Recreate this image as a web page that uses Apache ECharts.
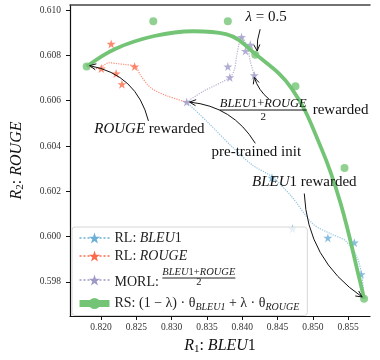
<!DOCTYPE html>
<html lang="en">
<head>
<meta charset="UTF-8">
<title>Rewarded soups front</title>
<script src="https://cdn.jsdelivr.net/npm/echarts@6/dist/echarts.min.js"></script>
<style>html,body{margin:0;padding:0;background:#fff;}</style>
</head>
<body>
<div id="main" style="width:380px;height:360px;"></div>
<script>
// tick values
var xTicks = [0.820, 0.825, 0.830, 0.835, 0.840, 0.845, 0.850, 0.855];
var yTicks = [0.598, 0.600, 0.602, 0.604, 0.606, 0.608, 0.610];

// pre-trained init
var initPoint = [0.83213, 0.60594];

// RL: BLEU1
var bleuStars = [[0.84421, 0.60260], [0.84713, 0.60034], [0.85213, 0.59994], [0.85588, 0.59973], [0.85685, 0.59833]];
var bleuPath = [[0.83213, 0.60594], [0.83518, 0.60503], [0.83865, 0.60394], [0.84143, 0.60316], [0.84421, 0.60264],
                [0.84699, 0.60177], [0.85004, 0.60055], [0.85254, 0.60012], [0.85463, 0.59981], [0.85629, 0.59907],
                [0.85699, 0.59816], [0.85726, 0.59725]];

// RL: ROUGE
var rougeStars = [[0.82143, 0.60851], [0.82004, 0.60742], [0.82213, 0.60720], [0.82476, 0.60751], [0.82296, 0.60673]];
var rougePath = [[0.83213, 0.60594], [0.82949, 0.60620], [0.82713, 0.60655], [0.82560, 0.60712], [0.82490, 0.60751],
                 [0.82338, 0.60760], [0.82226, 0.60764], [0.82115, 0.60768], [0.81949, 0.60742], [0.81824, 0.60751]];

// MORL
var morlStars = [[0.83990, 0.60881], [0.84115, 0.60847], [0.84046, 0.60820], [0.83796, 0.60751], [0.83824, 0.60703], [0.84171, 0.60712]];
var morlPath = [[0.83213, 0.60594], [0.83449, 0.60642], [0.83824, 0.60703], [0.83893, 0.60742], [0.83921, 0.60799],
                [0.83963, 0.60860], [0.83990, 0.60881], [0.84074, 0.60838], [0.84115, 0.60773], [0.84171, 0.60712]];

// RS: interpolated weights
var rsPoints = [[0.81796, 0.60751], [0.82740, 0.60951], [0.83796, 0.60951], [0.84185, 0.60803],
                [0.84754, 0.60664], [0.85449, 0.60303], [0.85726, 0.59725]];
var rsCurve = [[0.81796, 0.60751], [0.82199, 0.60829], [0.82754, 0.60886], [0.83310, 0.60907], [0.83768, 0.60894],
               [0.84185, 0.60807], [0.84699, 0.60655], [0.85115, 0.60394], [0.85393, 0.60147], [0.85671, 0.59799],
               [0.85726, 0.59725]];

var FONT = '"Liberation Serif", "DejaVu Serif", serif';
var STAR = 'path://M50,0 L61.8,35.5 L99,35.5 L69,57.5 L80.5,93 L50,71 L19.5,93 L31,57.5 L1,35.5 L38.2,35.5 Z';
var C_BLEU = '#6baed6', C_ROUGE = '#fb6a4a', C_MORL = '#9e9ac8', C_RS = '#74c476';

var cv = document.createElement('canvas').getContext('2d');
function textW(t, size, italic) {
    cv.font = (italic ? 'italic ' : '') + size + 'px "Liberation Serif"';
    return cv.measureText(t).width;
}

// legend fraction pieces
var legFs = 14, fracFs = 10.5;
var morlW = textW('MORL: ', legFs, false);
var numW = textW('BLEU', fracFs, true) + textW('1+', fracFs, false) + textW('ROUGE', fracFs, true);
var twoW = textW('2', fracFs, false);

var legendLabels = {
    'RL: BLEU1': '{n|RL: }{i|BLEU}{n|1}',
    'RL: ROUGE': '{n|RL: }{i|ROUGE}',
    'MORL': '{sp1| }{fi|BLEU}{fn|1+}{fi|ROUGE}\n{sp1b| }{bar| }\n{m|MORL: }{sp2| }{fd|2}\n{gap| }',
    'RS': '{n|RS: (1 − λ) · θ}{sub|BLEU1}{n| + λ · θ}{sub|ROUGE}'
};

var annotations = [
    {text: '{i|λ} = 0.5', at: [0.84337, 0.60968], from: [0.84254, 0.60916], to: [0.84212, 0.60820], rad: 0.1},
    {text: '{i|ROUGE} rewarded', at: [0.82685, 0.60477], from: [0.82671, 0.60511], to: [0.81838, 0.60755], rad: 0.32},
    {text: 'pre-trained init', at: [0.84199, 0.60372], from: [0.84185, 0.60412], to: [0.83254, 0.60594], rad: 0.25},
    {text: '{i|BLEU}1 rewarded', at: [0.84879, 0.60242], from: [0.84879, 0.60190], to: [0.85699, 0.59733], rad: 0.25}
];
var fracAnno = {at: [0.84297, 0.60559], from: [0.84379, 0.60607], to: [0.84171, 0.60703], rad: -0.15};

var chart = echarts.init(document.getElementById('main'));

function lineSeries(name, data, color) {
    return {
        name: name, type: 'line', data: data, smooth: 0.3,
        symbol: STAR, showSymbol: false, color: color,
        lineStyle: {type: 'dotted', width: 1.2, opacity: 0.75},
        silent: true, z: 2
    };
}
function starSeries(name, data, color) {
    return {
        name: name, type: 'scatter', data: data, symbol: STAR, symbolSize: 9,
        itemStyle: {color: color}, silent: true, z: 3
    };
}

var option = {
    animation: false,
    grid: {left: 64, right: 10, top: 5, bottom: 39},
    legend: {
        orient: 'vertical', left: 72, top: 227,
        padding: [4, 8, 3, 4], itemGap: 4, itemWidth: 30, itemHeight: 14,
        backgroundColor: 'rgba(255,255,255,0.8)', borderColor: '#d6d6d6', borderWidth: 1, borderRadius: 3,
        selectedMode: false,
        data: [{name: 'RL: BLEU1'}, {name: 'RL: ROUGE'}, {name: 'MORL'}, {name: 'RS', lineStyle: {width: 7}}],
        formatter: function (name) { return legendLabels[name]; },
        textStyle: {
            fontFamily: FONT, fontSize: legFs, color: '#222',
            rich: {
                n: {fontFamily: FONT, fontSize: legFs, color: '#222'},
                i: {fontFamily: FONT, fontSize: legFs, fontStyle: 'italic', color: '#222'},
                sub: {fontFamily: FONT, fontSize: 10, fontStyle: 'italic', color: '#222', padding: [8, 0, 0, 0], lineHeight: 14},
                sp1: {width: morlW, lineHeight: 9, fontSize: 4},
                sp1b: {width: morlW, lineHeight: 2, fontSize: 2},
                fi: {fontFamily: FONT, fontSize: fracFs, fontStyle: 'italic', color: '#222', lineHeight: 9},
                fn: {fontFamily: FONT, fontSize: fracFs, color: '#222', lineHeight: 9},
                bar: {width: numW, height: 1, lineHeight: 2, fontSize: 2, backgroundColor: '#222'},
                m: {fontFamily: FONT, fontSize: legFs, color: '#222', lineHeight: 6},
                sp2: {width: numW / 2 - twoW / 2, lineHeight: 6, fontSize: 4},
                fd: {fontFamily: FONT, fontSize: fracFs, color: '#222', lineHeight: 6},
                gap: {lineHeight: 7, fontSize: 4}
            }
        }
    },
    xAxis: [{
        type: 'value', min: 0.8156, max: 0.8581,
        name: '{i|R}{s|1}{n|: }{i|BLEU}{n|1}', nameLocation: 'middle', nameGap: 21,
        nameTextStyle: {rich: {
            i: {fontFamily: FONT, fontSize: 16, fontStyle: 'italic', color: '#111'},
            n: {fontFamily: FONT, fontSize: 16, color: '#111'},
            s: {fontFamily: FONT, fontSize: 11, color: '#111', padding: [7, 0, 0, 0], lineHeight: 18}
        }},
        axisLine: {lineStyle: {color: '#111', width: 1.2}},
        axisTick: {customValues: xTicks, length: 4, lineStyle: {color: '#111'}},
        axisLabel: {customValues: xTicks, margin: 6, fontFamily: FONT, fontSize: 9.5, color: '#333',
            formatter: function (v) { return v.toFixed(3); }},
        splitLine: {show: false}
    }, {
        type: 'value', position: 'top', min: 0.8156, max: 0.8581,
        axisLine: {show: true, lineStyle: {color: '#444', width: 1.5}},
        axisTick: {show: false}, axisLabel: {show: false}, splitLine: {show: false}
    }],
    yAxis: {
        type: 'value', min: 0.59649, max: 0.61023,
        name: '{i|R}{s|2}{n|: }{i|ROUGE}', nameLocation: 'middle', nameGap: 44,
        nameTextStyle: {rich: {
            i: {fontFamily: FONT, fontSize: 16, fontStyle: 'italic', color: '#111'},
            n: {fontFamily: FONT, fontSize: 16, color: '#111'},
            s: {fontFamily: FONT, fontSize: 11, color: '#111', padding: [7, 0, 0, 0], lineHeight: 18}
        }},
        axisLine: {show: true, lineStyle: {color: '#111', width: 1.2}},
        axisTick: {show: true, customValues: yTicks, length: 4, lineStyle: {color: '#111'}},
        axisLabel: {customValues: yTicks, margin: 9, fontFamily: FONT, fontSize: 9.5, color: '#333',
            formatter: function (v) { return v.toFixed(3); }},
        splitLine: {show: false}
    },
    series: [
        lineSeries('RL: BLEU1', bleuPath, C_BLEU),
        lineSeries('RL: ROUGE', rougePath, C_ROUGE),
        lineSeries('MORL', morlPath, C_MORL),
        {
            name: 'RS', type: 'line', data: rsCurve, smooth: 0.4, symbol: 'circle', showSymbol: false,
            color: C_RS, lineStyle: {width: 3.8}, silent: true, z: 4
        },
        starSeries('RL: BLEU1', bleuStars, C_BLEU),
        starSeries('RL: ROUGE', rougeStars, C_ROUGE),
        starSeries('MORL', morlStars, C_MORL),
        starSeries('MORL', [initPoint], C_MORL),
        {
            name: 'RS', type: 'scatter', data: rsPoints, symbol: 'circle', symbolSize: 8,
            itemStyle: {color: C_RS}, silent: true, z: 5
        }
    ]
};
chart.setOption(option);

// annotations: curved arrows + labels, placed from data coordinates
function px(p) { return chart.convertToPixel({xAxisIndex: 0, yAxisIndex: 0}, p); }

function arrow(fromPt, toPt, rad) {
    var a = px(fromPt), b = px(toPt);
    var dx = b[0] - a[0], dy = b[1] - a[1];
    var c = [(a[0] + b[0]) / 2 - rad * dy, (a[1] + b[1]) / 2 + rad * dx];
    var ux = b[0] - c[0], uy = b[1] - c[1], len = Math.sqrt(ux * ux + uy * uy);
    ux /= len; uy /= len;
    var hl = 7, ang = 0.45;
    function rot(t) {
        return [b[0] - hl * (ux * Math.cos(t) - uy * Math.sin(t)), b[1] - hl * (ux * Math.sin(t) + uy * Math.cos(t))];
    }
    return [
        {type: 'bezierCurve', silent: true, z: 50,
            shape: {x1: a[0], y1: a[1], x2: b[0], y2: b[1], cpx1: c[0], cpy1: c[1]},
            style: {stroke: '#111', lineWidth: 1, fill: null}},
        {type: 'polyline', silent: true, z: 50,
            shape: {points: [rot(ang), b, rot(-ang)]},
            style: {stroke: '#111', lineWidth: 1, fill: null}}
    ];
}

var annoRich = {
    i: {fontFamily: FONT, fontSize: 15, fontStyle: 'italic', fill: '#111'}
};
var gfx = [];
annotations.forEach(function (a) {
    var p = px(a.at);
    gfx.push({type: 'text', silent: true, z: 50, x: p[0], y: p[1],
        style: {text: a.text, fontFamily: FONT, fontSize: 15, fill: '#111', align: 'center', verticalAlign: 'middle', rich: annoRich}});
    gfx = gfx.concat(arrow(a.from, a.to, a.rad));
});

// (BLEU1+ROUGE)/2 rewarded
var fp = px(fracAnno.at);
var fFs = 12.5;
var fNumW = textW('BLEU', fFs, true) + textW('1+', fFs, false) + textW('ROUGE', fFs, true);
gfx.push({type: 'text', silent: true, z: 50, x: fp[0], y: fp[1] - 6,
    style: {text: '{i|BLEU}1+{i|ROUGE}', fontFamily: FONT, fontSize: fFs, fill: '#111', align: 'center', verticalAlign: 'middle',
        rich: {i: {fontFamily: FONT, fontSize: fFs, fontStyle: 'italic', fill: '#111'}}}});
gfx.push({type: 'line', silent: true, z: 50,
    shape: {x1: fp[0] - fNumW / 2, y1: fp[1], x2: fp[0] + fNumW / 2, y2: fp[1]},
    style: {stroke: '#111', lineWidth: 1}});
gfx.push({type: 'text', silent: true, z: 50, x: fp[0], y: fp[1] + 7,
    style: {text: '2', fontFamily: FONT, fontSize: 11, fill: '#111', align: 'center', verticalAlign: 'middle'}});
gfx.push({type: 'text', silent: true, z: 50, x: fp[0] + fNumW / 2 + 6, y: fp[1],
    style: {text: 'rewarded', fontFamily: FONT, fontSize: 15, fill: '#111', align: 'left', verticalAlign: 'middle'}});
gfx = gfx.concat(arrow(fracAnno.from, fracAnno.to, fracAnno.rad));

chart.setOption({graphic: gfx});
</script>
</body>
</html>
